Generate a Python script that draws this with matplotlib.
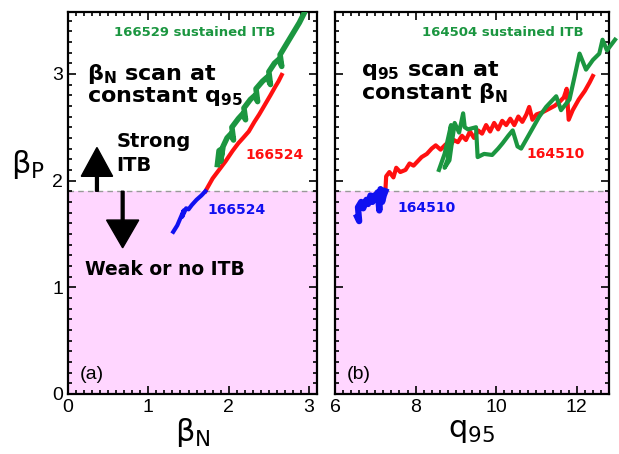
import matplotlib
matplotlib.use("Agg")
import matplotlib.pyplot as plt
from matplotlib.patches import FancyArrow
from matplotlib.ticker import MultipleLocator

plt.rcParams['font.family'] = ['DejaVu Sans']
plt.rcParams['mathtext.default'] = 'regular'

# threshold between weak and strong ITB
bp_threshold = 1.9

# (a) beta_N scan, shot 166524 / 166529
a_blue_bn = [1.31, 1.36, 1.40, 1.44, 1.42, 1.47, 1.50, 1.54, 1.60, 1.66, 1.71]
a_blue_bp = [1.52, 1.58, 1.65, 1.72, 1.66, 1.74, 1.73, 1.77, 1.82, 1.86, 1.90]

a_red_bn = [1.71, 1.80, 1.90, 1.96, 2.05, 2.12, 2.18, 2.25, 2.32, 2.38, 2.45, 2.52, 2.58, 2.62, 2.66]
a_red_bp = [1.90, 2.02, 2.12, 2.18, 2.28, 2.35, 2.40, 2.46, 2.55, 2.62, 2.71, 2.80, 2.88, 2.93, 2.99]

a_green_bn = [1.86, 1.88, 1.92, 1.90, 1.93, 1.98, 2.03, 2.06, 2.04, 2.12, 2.18, 2.21, 2.19,
              2.27, 2.33, 2.36, 2.34, 2.42, 2.48, 2.52, 2.50, 2.57, 2.63, 2.66, 2.64, 2.72,
              2.80, 2.88, 2.96]
a_green_bp = [2.15, 2.28, 2.30, 2.18, 2.32, 2.40, 2.44, 2.38, 2.50, 2.58, 2.63, 2.57, 2.68,
              2.76, 2.80, 2.74, 2.86, 2.93, 2.97, 2.90, 3.02, 3.10, 3.14, 3.07, 3.18, 3.28,
              3.38, 3.48, 3.60]

# (b) q95 scan, shot 164510 / 164504
b_blue_q = [6.55, 6.60, 6.57, 6.65, 6.70, 6.78, 6.82, 6.88, 6.93, 6.97, 7.02, 7.06, 7.10,
            7.13, 7.17, 7.21, 7.25]
b_blue_bp = [1.66, 1.62, 1.75, 1.80, 1.74, 1.82, 1.78, 1.86, 1.80, 1.86, 1.84, 1.89, 1.72,
             1.92, 1.80, 1.86, 1.90]

b_red_q = [7.25, 7.27, 7.35, 7.45, 7.52, 7.62, 7.75, 7.85, 7.95, 8.05, 8.15, 8.28, 8.40,
           8.50, 8.62, 8.75, 8.85, 8.95, 9.05, 9.15, 9.25, 9.35, 9.45, 9.55, 9.65, 9.75,
           9.85, 9.95, 10.05, 10.15, 10.25, 10.35, 10.45, 10.55, 10.65, 10.75, 10.82,
           10.90, 11.00, 11.15, 11.30, 11.45, 11.58, 11.68, 11.75, 11.80, 11.90, 12.05,
           12.20, 12.32, 12.40]
b_red_bp = [1.90, 2.04, 2.08, 2.03, 2.12, 2.08, 2.10, 2.16, 2.14, 2.18, 2.22, 2.25, 2.30,
            2.33, 2.29, 2.34, 2.32, 2.38, 2.36, 2.42, 2.38, 2.46, 2.40, 2.47, 2.44, 2.52,
            2.46, 2.54, 2.48, 2.56, 2.52, 2.58, 2.52, 2.60, 2.55, 2.62, 2.69, 2.57,
            2.62, 2.64, 2.67, 2.70, 2.74, 2.78, 2.86, 2.57, 2.66, 2.76, 2.84, 2.92, 2.98]

b_green_q = [8.58, 8.72, 8.88, 8.80, 8.72, 8.84, 8.97, 9.08, 9.18, 9.22, 9.30, 9.50, 9.54,
             9.70, 9.90, 10.05, 10.16, 10.30, 10.41, 10.53, 10.62, 10.80, 11.07, 11.24,
             11.49, 11.61, 11.82, 11.95, 12.07, 12.23, 12.40, 12.56, 12.64, 12.75, 12.95]
b_green_bp = [2.10, 2.25, 2.52, 2.20, 2.12, 2.19, 2.54, 2.45, 2.63, 2.50, 2.48, 2.50, 2.22,
              2.25, 2.24, 2.30, 2.35, 2.42, 2.47, 2.32, 2.30, 2.42, 2.60, 2.69, 2.79,
              2.66, 2.76, 2.98, 3.19, 3.04, 3.13, 3.19, 3.32, 3.22, 3.32]

red = '#ff1010'
green = '#1b9640'
blue = '#1010f0'
pink = '#ffd6ff'
tick_font = 'Liberation Sans'

fig = plt.figure(figsize=(6.19, 4.54), dpi=100)
ax1 = fig.add_axes([0.1099, 0.1322, 0.4023, 0.8414])
ax2 = fig.add_axes([0.5412, 0.1322, 0.4426, 0.8414])

for ax in (ax1, ax2):
    ax.axhspan(0, bp_threshold, color=pink, zorder=0, lw=0)
    ax.axhline(bp_threshold, color='#999999', ls='--', lw=1.0, dashes=(4, 3), zorder=1)
    ax.set_ylim(0, 3.58)
    ax.yaxis.set_major_locator(MultipleLocator(1))
    ax.yaxis.set_minor_locator(MultipleLocator(0.1))
    ax.tick_params(which='both', direction='in', top=True, right=True, width=1.2)
    ax.tick_params(which='major', length=6, labelsize=14)
    ax.tick_params(which='minor', length=3)
    for s in ax.spines.values():
        s.set_linewidth(1.6)

# panel (a)
ax1.plot(a_red_bn, a_red_bp, color=red, lw=3, zorder=3)
ax1.plot(a_green_bn, a_green_bp, color=green, lw=4, zorder=4)
ax1.plot(a_blue_bn, a_blue_bp, color=blue, lw=3, zorder=3)
ax1.set_xlim(0, 3.1)
ax1.xaxis.set_major_locator(MultipleLocator(1))
ax1.xaxis.set_minor_locator(MultipleLocator(0.1))
ax1.set_xlabel(r'$\beta_N$', fontsize=22, labelpad=0)
ax1.set_ylabel(r'$\beta_P$', fontsize=22, rotation=0, labelpad=14, va='center')
ax1.yaxis.set_label_coords(-0.16, 0.6)

ax1.text(0.57, 3.39, '166529 sustained ITB', color=green, fontsize=9.5,
         fontweight='bold', va='center')
ax1.text(0.24, 3.0, r'$\mathbf{\beta_N}$ scan at', fontsize=16, fontweight='bold', va='center')
ax1.text(0.24, 2.79, r'constant q$\mathbf{_{95}}$', fontsize=16, fontweight='bold', va='center')
ax1.text(0.6, 2.37, 'Strong', fontsize=14, fontweight='bold', va='center')
ax1.text(0.6, 2.14, 'ITB', fontsize=14, fontweight='bold', va='center')
ax1.text(0.21, 1.17, 'Weak or no ITB', fontsize=13.5, fontweight='bold', va='center')
ax1.text(2.21, 2.24, '166524', color=red, fontsize=10, fontweight='bold', va='center')
ax1.text(1.74, 1.72, '166524', color=blue, fontsize=10, fontweight='bold', va='center')
ax1.text(0.14, 0.18, '(a)', fontsize=14, va='center', family=tick_font)

ax1.add_patch(FancyArrow(0.36, bp_threshold, 0, 0.41, width=0.035, head_width=0.39,
                         head_length=0.27, length_includes_head=True, color='black',
                         zorder=5))
ax1.add_patch(FancyArrow(0.68, bp_threshold, 0, -0.53, width=0.035, head_width=0.40,
                         head_length=0.26, length_includes_head=True, color='black',
                         zorder=5))

# panel (b)
ax2.plot(b_red_q, b_red_bp, color=red, lw=3, zorder=3)
ax2.plot(b_green_q, b_green_bp, color=green, lw=3, zorder=4, clip_on=False)
ax2.plot(b_blue_q, b_blue_bp, color=blue, lw=4.5, zorder=3)
ax2.set_xlim(6, 12.8)
ax2.xaxis.set_major_locator(MultipleLocator(2))
ax2.xaxis.set_minor_locator(MultipleLocator(0.2))
ax2.tick_params(labelleft=False)
ax2.set_xlabel(r'$q_{95}$', fontsize=22, labelpad=0)

ax2.text(8.15, 3.39, '164504 sustained ITB', color=green, fontsize=9.5,
         fontweight='bold', va='center')
ax2.text(6.65, 3.03, r'q$\mathbf{_{95}}$ scan at', fontsize=16, fontweight='bold', va='center')
ax2.text(6.65, 2.82, r'constant $\mathbf{\beta_N}$', fontsize=16, fontweight='bold', va='center')
ax2.text(10.75, 2.25, '164510', color=red, fontsize=10, fontweight='bold', va='center')
ax2.text(7.55, 1.74, '164510', color=blue, fontsize=10, fontweight='bold', va='center')
ax2.text(6.3, 0.18, '(b)', fontsize=14, va='center', family=tick_font)

for ax in (ax1, ax2):
    for lab in ax.get_xticklabels() + ax.get_yticklabels():
        lab.set_family(tick_font)

fig.savefig('out.png', dpi=100)
